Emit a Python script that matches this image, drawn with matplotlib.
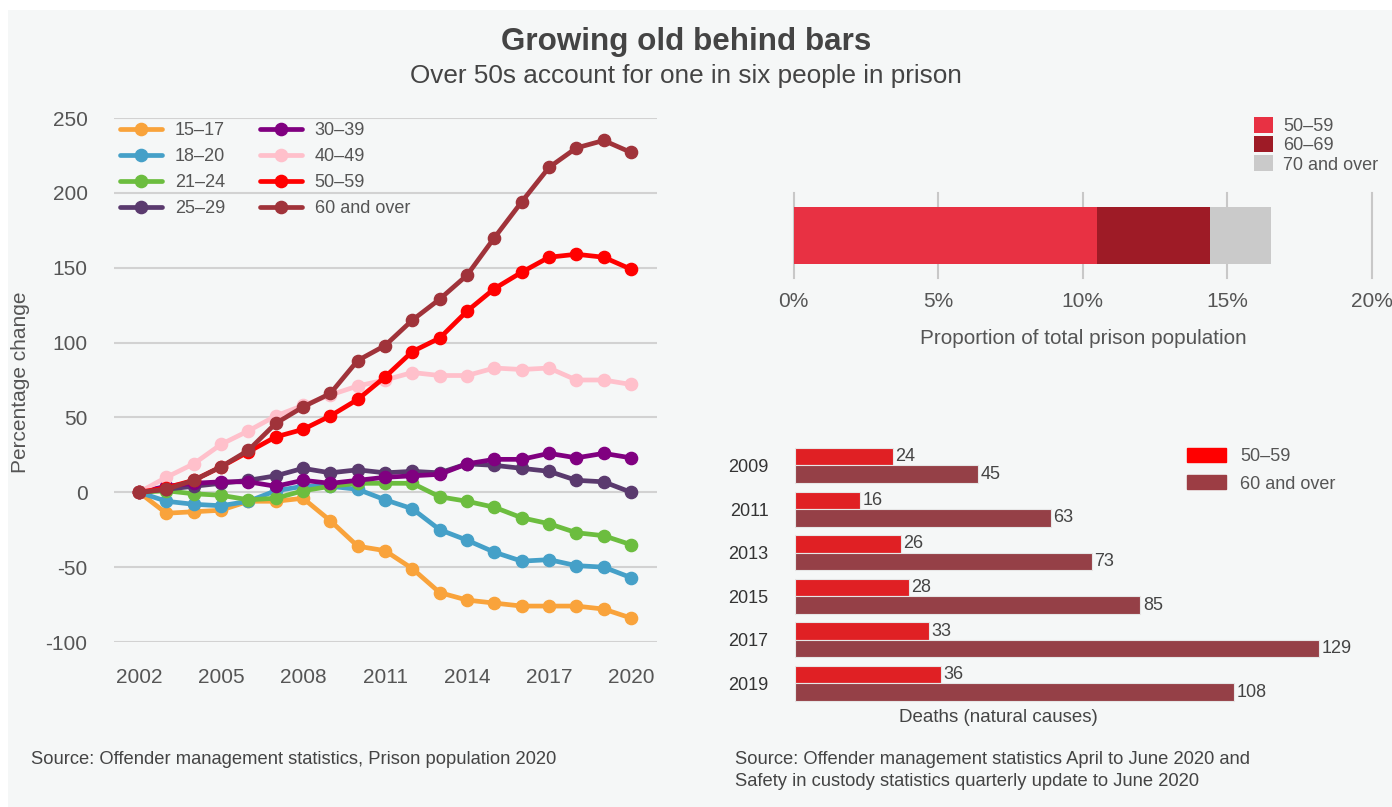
import matplotlib.pyplot as plt
from matplotlib.patches import Patch, Rectangle

plt.rcParams['font.family'] = ['Liberation Sans', 'DejaVu Sans']
plt.rcParams['axes.unicode_minus'] = False

# Prozentuale Veränderung der Gefängnispopulation nach Altersgruppe (2002 = 0)
years = list(range(2002, 2021))
age_groups = ['15–17', '18–20', '21–24', '25–29', '30–39', '40–49', '50–59', '60 and over']
change_15_17 = [0, -14, -13, -12, -6, -6, -4, -19, -36, -39, -51, -67, -72, -74, -76, -76, -76, -78, -84]
change_18_20 = [0, -6, -8, -9, -6, 1, 4, 4, 2, -5, -11, -25, -32, -40, -46, -45, -49, -50, -57]
change_21_24 = [0, 1, -1, -2, -5, -4, 1, 4, 6, 6, 6, -3, -6, -10, -17, -21, -27, -29, -35]
change_25_29 = [0, 2, 4, 6, 8, 11, 16, 13, 15, 13, 14, 13, 19, 18, 16, 14, 8, 7, 0]
change_30_39 = [0, 4, 6, 7, 7, 4, 8, 6, 8, 10, 11, 12, 19, 22, 22, 26, 23, 26, 23]
change_40_49 = [0, 10, 19, 32, 41, 51, 58, 65, 71, 75, 80, 78, 78, 83, 82, 83, 75, 75, 72]
change_50_59 = [0, 3, 8, 17, 27, 37, 42, 51, 62, 77, 94, 103, 121, 136, 147, 157, 159, 157, 149]
change_60_plus = [0, 2, 8, 17, 28, 46, 57, 66, 88, 98, 115, 129, 145, 170, 194, 217, 230, 235, 227]
line_colors = ['#f9a33b', '#45a0c8', '#6cbd3f', '#5a3a6e', '#800080', '#ffc0cb', '#ff0000', '#a0333a']

# Anteil an der gesamten Gefängnispopulation (%)
share_groups = ['50–59', '60–69', '70 and over']
share_values = [10.5, 3.9, 2.1]
share_colors = ['#e83143', '#9e1b26', '#cacaca']

# Todesfälle (natürliche Ursachen)
death_years = ['2009', '2011', '2013', '2015', '2017', '2019']
deaths_50_59 = [24, 16, 26, 28, 33, 36]
deaths_60_plus = [45, 63, 73, 85, 129, 108]

W, H = 1392, 807
bg = '#f5f7f7'
txt = '#555555'


def box(x0, y0, x1, y1):
    # Pixelkoordinaten (oben links) in Figure-Koordinaten umrechnen
    return [x0 / W, 1 - y1 / H, (x1 - x0) / W, (y1 - y0) / H]


fig = plt.figure(figsize=(W / 100, H / 100), dpi=100, facecolor='white')
fig.add_artist(Rectangle((8 / W, 0), 1, 1 - 10 / H, transform=fig.transFigure,
                         facecolor=bg, edgecolor='none', zorder=-10))

fig.text(686 / W, 1 - 42 / H, 'Growing old behind bars', ha='center', va='center',
         fontsize=22.6, fontweight='bold', color='#444444')
fig.text(686 / W, 1 - 76 / H, 'Over 50s account for one in six people in prison',
         ha='center', va='center', fontsize=18.8, color='#444444')

# Linienchart
ax1 = fig.add_axes(box(114, 118, 657, 642))
ax1.set_facecolor('none')
series = [change_15_17, change_18_20, change_21_24, change_25_29,
          change_30_39, change_40_49, change_50_59, change_60_plus]
for label, values, col in zip(age_groups, series, line_colors):
    ax1.plot(years, values, color=col, lw=3.4, marker='o', ms=8.8, label=label,
             clip_on=False, solid_capstyle='round')
ax1.set_xlim(2001.085, 2020.95)
ax1.set_ylim(-100, 250)
ax1.set_xticks(range(2002, 2021, 3))
ax1.set_yticks(range(-100, 251, 50))
for y in range(-100, 251, 50):
    ax1.axhline(y, color='#d2d2d2', lw=1.5, zorder=0)
for s in ax1.spines.values():
    s.set_visible(False)
ax1.tick_params(length=0, labelsize=15, colors=txt)
ax1.tick_params(axis='x', pad=19)
ax1.tick_params(axis='y', pad=19)
ax1.set_ylabel('Percentage change', fontsize=15, color=txt)
ax1.yaxis.set_label_coords(-(114 - 30) / 543, (642 - 382) / 524)
ax1.legend(ncol=2, loc='upper left', bbox_to_anchor=(120 / W, 1 - 122 / H),
           bbox_transform=fig.transFigure, frameon=False, fontsize=13,
           handlelength=2.33, handletextpad=0.72, columnspacing=1.9,
           labelspacing=0.5, borderpad=0, borderaxespad=0, numpoints=1,
           labelcolor=txt)

# Gestapelter Balken: Anteil an der Gefängnispopulation
ax2 = fig.add_axes(box(793.7, 193, 1372, 278))
ax2.set_facecolor('none')
left = 0
for label, val, col in zip(share_groups, share_values, share_colors):
    ax2.barh(0, val, left=left, height=0.67, color=col, label=label, zorder=2)
    left += val
ax2.set_xlim(0, 20)
ax2.set_ylim(-0.5, 0.5)
for x in range(0, 21, 5):
    ax2.axvline(x, color='#c8c8c8', lw=1.5, zorder=0, clip_on=False)
ax2.set_xticks(range(0, 21, 5))
ax2.set_xticklabels([f'{x}%' for x in range(0, 21, 5)])
ax2.set_yticks([])
for s in ax2.spines.values():
    s.set_visible(False)
ax2.tick_params(length=0, labelsize=15, colors=txt, pad=10)
ax2.set_xlabel('Proportion of total prison population', fontsize=14.9, color=txt, labelpad=13)
ax2.legend(loc='upper left', bbox_to_anchor=(1254 / W, 1 - 117 / H),
           bbox_transform=fig.transFigure, frameon=False, fontsize=13,
           handlelength=1.05, handleheight=1.0, handletextpad=0.55,
           labelspacing=0.05, borderpad=0, borderaxespad=0, labelcolor=txt)

# Balkendiagramm: Todesfälle
ax3 = fig.add_axes(box(795, 441.5, 1392, 705.3))
ax3.set_facecolor('none')
pos = list(range(len(death_years)))
ax3.barh([p - 0.2 for p in pos], deaths_50_59, height=0.4, color='#e02024',
         edgecolor='#e6e6e6', lw=0.8)
ax3.barh([p + 0.2 for p in pos], deaths_60_plus, height=0.4, color='#954047',
         edgecolor='#e6e6e6', lw=0.8)
for p, a, b in zip(pos, deaths_50_59, deaths_60_plus):
    ax3.text(a + 0.6, p - 0.2, str(a), va='center', ha='left', fontsize=13, color='#444444')
    ax3.text(b + 0.6, p + 0.2, str(b), va='center', ha='left', fontsize=13, color='#444444')
ax3.set_xlim(0, (1392 - 795) / 4.064)
ax3.set_ylim(5.5, -0.55)
ax3.set_yticks(pos)
ax3.set_yticklabels(death_years)
ax3.set_xticks([])
for s in ax3.spines.values():
    s.set_visible(False)
ax3.tick_params(length=0, labelsize=13, colors='#333333', pad=19)
ax3.legend(handles=[Patch(color='#ff0000', label='50–59'),
                    Patch(color='#9c3d44', label='60 and over')],
           loc='upper left', bbox_to_anchor=(1187 / W, 1 - 448 / H),
           bbox_transform=fig.transFigure, frameon=False, fontsize=13,
           handlelength=2.17, handleheight=0.83, handletextpad=0.78,
           labelspacing=0.55, borderpad=0, borderaxespad=0, labelcolor=txt)
fig.text(998 / W, 1 - 717 / H, 'Deaths (natural causes)', ha='center', va='center',
         fontsize=13.5, color='#444444')

# Quellenangaben
fig.text(31 / W, 1 - 759 / H, 'Source: Offender management statistics, Prison population 2020',
         ha='left', va='center', fontsize=13.2, color='#444444')
fig.text(735 / W, 1 - 759 / H, 'Source: Offender management statistics April to June 2020 and',
         ha='left', va='center', fontsize=13.2, color='#444444')
fig.text(735 / W, 1 - 781 / H, 'Safety in custody statistics quarterly update to June 2020',
         ha='left', va='center', fontsize=13.2, color='#444444')

fig.savefig('out.png', dpi=100, facecolor=fig.get_facecolor())
